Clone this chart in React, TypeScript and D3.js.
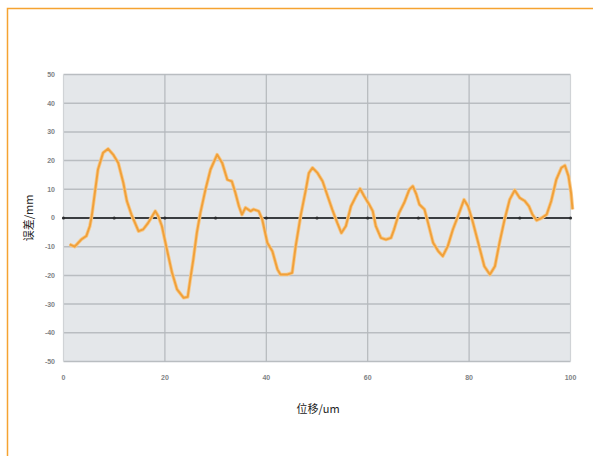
import { useEffect, useRef } from 'react'
import * as d3 from 'd3'

// displacement (um) and error (mm)
const xs = [
  1.2, 2.2, 3.5, 4.5, 5.2, 5.6, 6.8, 7.8, 8.8, 9.8, 10.8, 11.8, 12.5, 13.4, 14.8, 15.7, 16.7, 18.1, 18.7, 19.4,
  20.4, 21.4, 22.4, 23.7, 24.5, 25, 25.6, 26.3, 27, 28, 29, 30.3, 31.3, 32.3, 33.2, 33.9, 34.6, 35.2, 35.9, 36.9,
  37.5, 38.5, 39.2, 40.2, 41.2, 42.2, 42.8, 44.1, 45.1, 45.8, 46.8, 47.8, 48.4, 49.1, 50.1, 51.1, 52.1, 53, 54, 54.8,
  55.7, 56.7, 57.7, 58.5, 59.3, 60.3, 61, 61.6, 62.6, 63.6, 64.6, 65.2, 66.2, 67.2, 68.2, 68.9, 69.6, 70.2, 71.2, 71.9,
  72.9, 73.9, 74.8, 75.8, 76.8, 77.8, 79, 79.8, 80.6, 81.8, 83, 84.1, 85.1, 86, 87, 88, 89, 90, 91, 91.8,
  92.5, 93.3, 94.3, 95.3, 96.2, 97.2, 98.2, 98.9, 99.6, 100.1, 100.4,
]
const ys = [
  -9.2, -10, -7.5, -6.3, -2.8, 1, 16.9, 22.7, 24.1, 22.1, 19.2, 12.3, 5.9, 1.2, -4.6, -4, -1.7, 2.4, 0.6, -2.8,
  -11, -19, -24.9, -27.8, -27.5, -21.4, -14.5, -5.2, 1.8, 9.9, 16.9, 22.1, 19.2, 13.4, 12.8, 8.8, 4.1, 1.2, 3.6, 2.4,
  3, 2.4, -0.5, -8.6, -11.6, -17.9, -19.7, -19.7, -19.1, -9.8, 1, 9.9, 15.7, 17.5, 15.7, 12.8, 7.6, 3, -1.7, -5.2,
  -2.8, 4.1, 7.6, 10.2, 7.6, 4.7, 2.4, -2.8, -6.9, -7.5, -6.9, -4, 1.8, 5.3, 9.9, 11.1, 8.2, 4.7, 3, -1.7,
  -8.6, -11.5, -13.3, -9.8, -4, 0.6, 6.4, 4.1, -0.5, -8.6, -16.8, -19.7, -16.8, -8.6, -0.5, 6.4, 9.7, 7, 5.9, 4.1,
  1.2, -0.8, 0, 1.2, 5.9, 13.4, 17.5, 18.3, 14.6, 8.8, 3,
]
const xTicks = [0, 20, 40, 60, 80, 100]
const yTicks = [50, 40, 30, 20, 10, 0, -10, -20, -30, -40, -50]
const zeroMarks = [0, 10, 20, 30, 40, 50, 60, 70, 80, 90, 100]

export default function App() {
  const ref = useRef<SVGSVGElement>(null)

  useEffect(() => {
    if (!ref.current) return
    const svg = d3.select(ref.current)
    svg.selectAll('*').remove()

    const x = d3.scaleLinear().domain([0, 100]).range([63.5, 570.5])
    const y = d3.scaleLinear().domain([-50, 50]).range([361.5, 74.5])
    const num = 'Liberation Sans, Arial, sans-serif'
    const cjk = '"Noto Sans CJK SC", sans-serif'

    // frame (only top and left edges show)
    svg.append('path')
      .attr('d', 'M7.5,456V8.5H593')
      .attr('fill', 'none')
      .attr('stroke', '#f5a331')
      .attr('stroke-width', 1.5)

    // plot background
    svg.append('rect')
      .attr('x', x(0)).attr('y', y(50))
      .attr('width', x(100) - x(0)).attr('height', y(-50) - y(50))
      .attr('fill', '#e4e7ea')

    // horizontal grid
    svg.append('g').selectAll('line')
      .data(yTicks.filter(d => d !== 0))
      .enter().append('line')
      .attr('x1', x(0)).attr('x2', x(100))
      .attr('y1', d => y(d)).attr('y2', d => y(d))
      .attr('stroke', '#b9bdc1')
      .attr('stroke-width', 1.5)

    // vertical grid
    svg.append('g').selectAll('line')
      .data(xTicks)
      .enter().append('line')
      .attr('x1', d => x(d)).attr('x2', d => x(d))
      .attr('y1', y(50)).attr('y2', y(-50))
      .attr('stroke', d => (d === 0 || d === 100 ? '#d0d3d6' : '#b4b8bc'))
      .attr('stroke-width', 1.2)

    // zero line with marks
    svg.append('line')
      .attr('x1', x(0)).attr('x2', x(100))
      .attr('y1', y(0)).attr('y2', y(0))
      .attr('stroke', '#3a3d40')
      .attr('stroke-width', 2)
    svg.append('g').selectAll('circle')
      .data(zeroMarks)
      .enter().append('circle')
      .attr('cx', d => x(d)).attr('cy', y(0))
      .attr('r', 1.6)
      .attr('fill', '#2a2c2e')

    // y tick labels
    svg.append('g').selectAll('text')
      .data(yTicks)
      .enter().append('text')
      .attr('x', 55).attr('y', d => y(d))
      .attr('dy', '0.35em')
      .attr('text-anchor', 'end')
      .attr('font-family', num)
      .attr('font-size', 7)
      .attr('font-weight', 'bold')
      .attr('fill', '#808386')
      .text(d => d)

    // x tick labels
    svg.append('g').selectAll('text')
      .data(xTicks)
      .enter().append('text')
      .attr('x', d => x(d)).attr('y', 380)
      .attr('text-anchor', 'middle')
      .attr('font-family', num)
      .attr('font-size', 7)
      .attr('font-weight', 'bold')
      .attr('fill', '#808386')
      .text(d => d)

    // the error curve
    const line = d3.line<number>()
      .x((_, i) => x(xs[i]))
      .y(d => y(d))
    svg.append('path')
      .datum(ys)
      .attr('d', line)
      .attr('fill', 'none')
      .attr('stroke', '#f7c98a')
      .attr('stroke-width', 3.6)
      .attr('stroke-linejoin', 'round')
    svg.append('path')
      .datum(ys)
      .attr('d', line)
      .attr('fill', 'none')
      .attr('stroke', '#f0a03a')
      .attr('stroke-width', 1.9)
      .attr('stroke-linejoin', 'round')

    // axis titles
    svg.append('text')
      .attr('transform', `translate(33,${y(0)}) rotate(-90)`)
      .attr('text-anchor', 'middle')
      .attr('font-family', cjk)
      .attr('font-size', 11)
      .attr('fill', '#222')
      .text('误差/mm')

    svg.append('text')
      .attr('x', 318).attr('y', 413)
      .attr('text-anchor', 'middle')
      .attr('font-family', cjk)
      .attr('font-size', 11)
      .attr('fill', '#222')
      .text('位移/um')
  }, [])

  return (
    <svg
      ref={ref}
      width={593}
      height={456}
      style={{ position: 'fixed', left: 0, top: 0, background: '#fff' }}
    />
  )
}
